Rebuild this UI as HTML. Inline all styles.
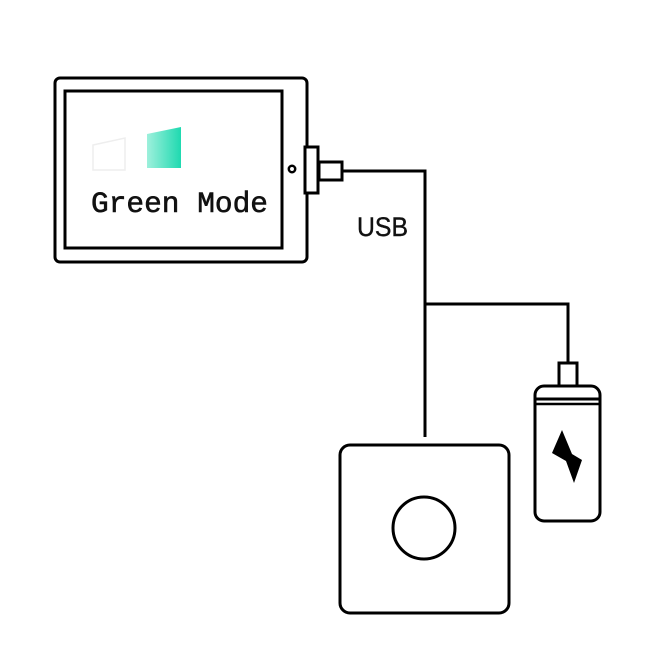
<!DOCTYPE html><html><head><style>body{margin:0;background:#fff}svg{display:block}</style></head><body>
<svg width="648" height="649" viewBox="0 0 648 649" xmlns="http://www.w3.org/2000/svg">
<defs><linearGradient id="g" x1="0" x2="1"><stop offset="0" stop-color="#9ef0dc"/><stop offset="1" stop-color="#1fd9b0"/></linearGradient></defs>
<g fill="none" stroke="#000" stroke-width="3">
<rect x="55" y="78" width="252" height="184" rx="5"/>
<rect x="65" y="91" width="217" height="157"/>
<circle cx="292" cy="169" r="3.2" stroke-width="2.5"/>
<rect x="305" y="147" width="13" height="46" fill="#fff"/>
<rect x="319" y="162" width="23" height="18"/>
<polyline points="342,171 425,171 425,437"/>
<polyline points="425,304 568,304 568,363"/>
<rect x="559" y="363" width="18" height="23"/>
<rect x="535" y="386" width="65" height="135" rx="9"/>
<line x1="535" y1="399" x2="600" y2="399"/>
<line x1="535" y1="404" x2="600" y2="404" stroke-width="2.5"/>
<rect x="340" y="445" width="169" height="168" rx="10"/>
<circle cx="424" cy="528" r="31"/>
</g>
<polygon points="93,145 125,138 125,170 93,170" fill="none" stroke="#eee" stroke-width="1.5"/>
<polygon points="147,134 181,127 181,168 147,168" fill="url(#g)"/>
<polygon points="562,430 572,454 582,460 574,483 566,461 552,453" fill="#000"/>
<text x="91" y="212" font-family="Liberation Mono, monospace" font-size="30" fill="#111" stroke="#111" stroke-width="0.6" textLength="177" lengthAdjust="spacingAndGlyphs">Green Mode</text>
<text x="357" y="236" font-family="Liberation Sans, sans-serif" font-size="27" fill="#111" stroke="#111" stroke-width="0.4" textLength="51" lengthAdjust="spacingAndGlyphs">USB</text>
</svg></body></html>
